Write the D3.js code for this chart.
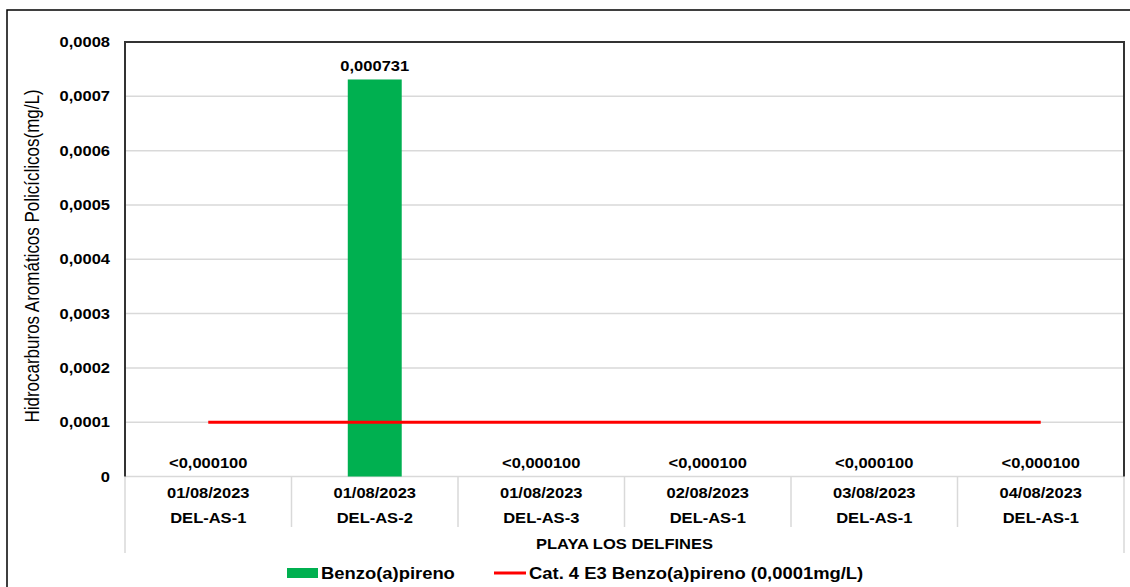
<!DOCTYPE html>
<html>
<head>
<meta charset="utf-8">
<script src="https://cdn.jsdelivr.net/npm/d3@7"></script>
<style>
  html, body { margin: 0; padding: 0; background: #fff; }
  svg { display: block; font-family: "Liberation Sans", Arial, sans-serif; }
</style>
</head>
<body>
<svg id="chart" width="1130" height="587"></svg>
<script>
// ---- data ----
const dates = ["01/08/2023", "01/08/2023", "01/08/2023", "02/08/2023", "03/08/2023", "04/08/2023"];
const sites = ["DEL-AS-1", "DEL-AS-2", "DEL-AS-3", "DEL-AS-1", "DEL-AS-1", "DEL-AS-1"];
const values = [0, 0.000731, 0, 0, 0, 0];
const valueLabels = ["<0,000100", "0,000731", "<0,000100", "<0,000100", "<0,000100", "<0,000100"];
const limitValue = 0.0001;
const yTicks = [0, 0.0001, 0.0002, 0.0003, 0.0004, 0.0005, 0.0006, 0.0007, 0.0008];
const groupLabel = "PLAYA LOS DELFINES";
const yTitle = "Hidrocarburos Aromáticos  Policíclicos(mg/L)";
const seriesName = "Benzo(a)pireno";
const limitName = "Cat. 4 E3 Benzo(a)pireno (0,0001mg/L)";

// ---- layout ----
const svg = d3.select("#chart");
const pLeft = 125, pRight = 1124, pTop = 42, pBottom = 476.5;
const SX = 1.18; // horizontal stretch of text in the reference
const idx = d3.range(dates.length);

const x = d3.scaleBand().domain(idx).range([pLeft, pRight]).paddingInner(0.676).paddingOuter(0.338);
const y = d3.scaleLinear().domain([0, 0.0008]).range([pBottom, pTop]);
const step = x.step();
const center = i => x(i) + x.bandwidth() / 2;
const fmt = v => v === 0 ? "0" : d3.format(".4f")(v).replace(".", ",");

function txt(g, xx, yy, s, opts = {}) {
  return g.append("text")
    .attr("transform", `translate(${xx},${yy}) scale(${opts.sx || SX},1)`)
    .attr("text-anchor", opts.anchor || "middle")
    .attr("font-size", opts.size || 14)
    .attr("font-weight", opts.weight || "bold")
    .attr("fill", "#000")
    .text(s);
}

// outer frame
svg.append("path").attr("d", "M7,590 L7,10 L1135,10").attr("fill", "none").attr("stroke", "#000").attr("stroke-width", 1.5);

// gridlines
svg.append("g").selectAll("line").data(yTicks).join("line")
  .attr("x1", pLeft).attr("x2", pRight)
  .attr("y1", d => y(d)).attr("y2", d => y(d))
  .attr("stroke", "#d9d9d9").attr("stroke-width", 1.5);

// category separators
const sepX = d3.range(dates.length + 1).map(i => pLeft + i * step);
svg.append("g").selectAll("line").data(sepX).join("line")
  .attr("x1", d => d).attr("x2", d => d)
  .attr("y1", pBottom).attr("y2", (d, i) => (i === 0 || i === dates.length) ? 553 : 527)
  .attr("stroke", "#d9d9d9").attr("stroke-width", 1.5);

// bars
svg.append("g").selectAll("rect").data(idx).join("rect")
  .attr("x", i => x(i)).attr("width", x.bandwidth())
  .attr("y", i => y(values[i])).attr("height", i => pBottom - y(values[i]))
  .attr("fill", "#00b050");

// limit line
svg.append("line")
  .attr("x1", center(0)).attr("x2", center(dates.length - 1))
  .attr("y1", y(limitValue)).attr("y2", y(limitValue))
  .attr("stroke", "#ff0000").attr("stroke-width", 3);

// plot border (top, left, right)
svg.append("path")
  .attr("d", `M${pLeft},${pBottom} L${pLeft},${pTop} L${pRight},${pTop} L${pRight},${pBottom}`)
  .attr("fill", "none").attr("stroke", "#333").attr("stroke-width", 2);

// y tick labels
const gy = svg.append("g");
yTicks.forEach(t => txt(gy, 110, y(t) + 5, fmt(t), { anchor: "end" }));

// y title
svg.append("text")
  .attr("transform", `translate(39,256) rotate(-90) scale(1,1.18)`)
  .attr("text-anchor", "middle").attr("font-size", 17)
  .attr("fill", "#000")
  .text(yTitle);

// value labels
const gl = svg.append("g");
idx.forEach(i => {
  const yy = values[i] > 0 ? y(values[i]) - 8 : pBottom - 9;
  txt(gl, center(i), yy, valueLabels[i]);
});

// category labels
const gc = svg.append("g");
idx.forEach(i => {
  txt(gc, center(i), 498, dates[i]);
  txt(gc, center(i), 523, sites[i]);
});
txt(gc, (pLeft + pRight) / 2, 549, groupLabel);

// legend
const lg = svg.append("g");
lg.append("rect").attr("x", 287).attr("y", 568).attr("width", 31).attr("height", 10).attr("fill", "#00b050");
txt(lg, 321, 578.5, seriesName, { anchor: "start", size: 15.6 });
lg.append("line").attr("x1", 494).attr("x2", 526).attr("y1", 573).attr("y2", 573)
  .attr("stroke", "#ff0000").attr("stroke-width", 3);
txt(lg, 529, 578.5, limitName, { anchor: "start", size: 15.6 });
</script>
</body>
</html>
